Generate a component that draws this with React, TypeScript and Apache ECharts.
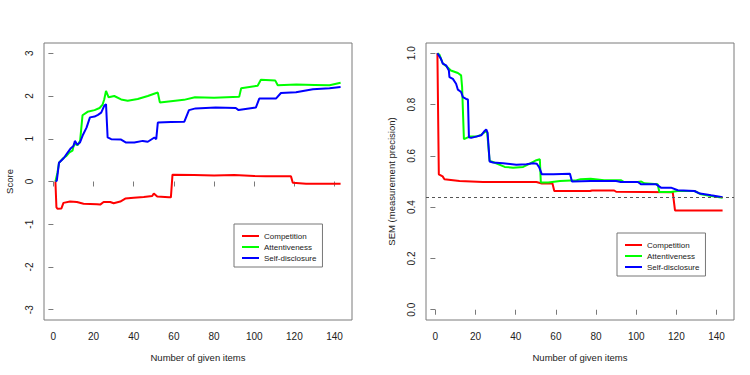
import React, { useEffect, useRef } from "react";
import * as echarts from "echarts";

// ---- data ----
const itemTicks = [0, 20, 40, 60, 80, 100, 120, 140];
const scoreTicks = [-3, -2, -1, 0, 1, 2, 3];
const semTicks = [0, 0.2, 0.4, 0.6, 0.8, 1.0];
const seriesNames = ["Competition", "Attentiveness", "Self-disclosure"];
const seriesColors = ["#ff0000", "#00ff00", "#0000ff"];
const semThreshold = 0.44;

const scoreCompetition: [number, number][] = [
  [1, 0], [1.5, -0.6], [2, -0.64], [4, -0.63], [5, -0.5], [8.3, -0.47], [11.7, -0.48],
  [15, -0.52], [21.7, -0.53], [23.3, -0.54], [25, -0.48], [28.3, -0.48], [30, -0.51],
  [33.3, -0.47], [35.8, -0.4], [40, -0.38], [45, -0.36], [49.2, -0.34], [50, -0.28],
  [51.7, -0.35], [57.5, -0.37], [58.5, -0.37], [59.3, 0.16], [70, 0.15], [80, 0.14],
  [90, 0.15], [100, 0.13], [105.8, 0.12], [112, 0.12], [118.3, 0.12], [119.2, -0.03],
  [125.8, -0.05], [135, -0.05], [143, -0.05],
];
const scoreAttentiveness: [number, number][] = [
  [1, 0], [2, 0.2], [2.8, 0.44], [5, 0.55], [6.3, 0.59], [8, 0.68], [9.5, 0.72],
  [10.3, 0.88], [12, 0.85], [13.3, 0.95], [14.5, 1.55], [17, 1.63], [20.5, 1.67],
  [23, 1.72], [24.5, 1.8], [25.3, 1.92], [26.2, 2.12], [27.5, 1.97], [30.3, 2.0],
  [33.7, 1.92], [37, 1.89], [42, 1.93], [47, 2.0], [50.5, 2.06], [52, 2.08], [53, 1.85],
  [58.5, 1.88], [65, 1.91], [70.5, 1.97], [80, 1.96], [92.5, 1.98], [93.5, 2.18],
  [101.7, 2.24], [103.3, 2.38], [110.5, 2.36], [111.7, 2.25], [121, 2.27], [130, 2.26],
  [137.5, 2.25], [143, 2.31],
];
const scoreSelfDisclosure: [number, number][] = [
  [1, 0], [1.7, 0.02], [2.8, 0.44], [5.2, 0.55], [7, 0.67], [8.7, 0.78], [10, 0.83],
  [10.7, 0.95], [11.9, 0.86], [13.2, 0.91], [14.8, 1.1], [16.5, 1.26], [18.2, 1.5],
  [20.5, 1.52], [22.2, 1.56], [23.8, 1.61], [25.3, 1.77], [26.2, 1.81], [27, 1.03],
  [28.8, 0.99], [33.7, 0.98], [36.2, 0.91], [40.3, 0.91], [44.5, 0.95], [47, 0.93],
  [50.3, 1.03], [51.2, 0.99], [52, 1.38], [58.5, 1.39], [65.2, 1.4], [67.5, 1.67],
  [70.8, 1.71], [80.8, 1.73], [90.8, 1.72], [92.2, 1.67], [100.8, 1.73], [102.5, 1.94],
  [110.8, 1.94], [113.3, 2.07], [120.8, 2.09], [129.2, 2.16], [137.5, 2.18], [143, 2.21],
];

const semCompetition: [number, number][] = [
  [1, 1.0], [1.7, 0.528], [3.6, 0.52], [4.5, 0.509], [12, 0.502], [23.7, 0.498],
  [50.3, 0.498], [53, 0.492], [58.3, 0.492], [59.2, 0.463], [77, 0.463], [78, 0.465],
  [89, 0.465], [90, 0.46], [118.2, 0.458], [119.3, 0.387], [143, 0.387],
];
const semAttentiveness: [number, number][] = [
  [1, 1.0], [2, 0.995], [3.7, 0.96], [6, 0.946], [7.7, 0.933], [11.2, 0.923],
  [12.8, 0.914], [13.3, 0.868], [14.2, 0.665], [17, 0.675], [20.3, 0.675], [22.8, 0.682],
  [24.5, 0.692], [25.3, 0.698], [25.8, 0.69], [27, 0.58], [28.7, 0.576], [34.5, 0.557],
  [38.7, 0.554], [43.7, 0.557], [47, 0.57], [50.3, 0.583], [52, 0.587], [52.5, 0.496],
  [56.2, 0.496], [62, 0.502], [70.3, 0.505], [72.3, 0.509], [77.3, 0.511], [84, 0.505],
  [92.3, 0.505], [94, 0.498], [100.8, 0.498], [102.5, 0.5], [104, 0.493], [110.7, 0.489],
  [111.5, 0.459], [117.3, 0.459], [120.7, 0.463], [129, 0.463], [132.3, 0.45],
  [137.3, 0.443], [143, 0.437],
];
const semSelfDisclosure: [number, number][] = [
  [1, 1.0], [2.7, 0.979], [3.7, 0.96], [5.3, 0.953], [6.7, 0.933], [7, 0.907],
  [8.7, 0.9], [10.3, 0.881], [11.2, 0.858], [12.8, 0.849], [13.7, 0.829], [15.3, 0.822],
  [16.2, 0.82], [16.7, 0.672], [17.8, 0.67], [20.3, 0.675], [22.8, 0.68], [24.5, 0.697],
  [25.3, 0.703], [26, 0.69], [27, 0.578], [28.7, 0.574], [33.7, 0.571], [40.3, 0.565],
  [45.3, 0.567], [48.7, 0.571], [50.5, 0.569], [51.7, 0.555], [53, 0.528], [58.8, 0.528],
  [67, 0.53], [68, 0.5], [77.3, 0.502], [90, 0.502], [92.3, 0.498], [100.8, 0.498],
  [102.5, 0.489], [110, 0.489], [112.3, 0.476], [117.3, 0.476], [120.7, 0.466],
  [129, 0.463], [131.7, 0.453], [137.3, 0.446], [143, 0.439],
];

const FONT = "'Liberation Sans', Arial, sans-serif";
const AXIS_GRAY = "#7a7a7a";
const TEXT = "#222";

function xAxisFor(gridIndex: number) {
  return {
    type: "value",
    gridIndex,
    min: -4.68,
    max: 148.68,
    name: "Number of given items",
    nameLocation: "middle",
    nameGap: 32,
    nameTextStyle: { fontFamily: FONT, fontSize: 9.5, color: TEXT },
    axisLine: { show: false },
    axisTick: { show: true, length: 5, lineStyle: { color: AXIS_GRAY }, customValues: itemTicks },
    axisLabel: { fontFamily: FONT, fontSize: 10, color: TEXT, margin: 11, customValues: itemTicks },
    splitLine: { show: false },
  };
}

function yAxisFor(gridIndex: number, name: string, min: number, max: number, ticks: number[], fmt: (v: number) => string) {
  return {
    type: "value",
    gridIndex,
    min,
    max,
    name,
    nameLocation: "middle",
    nameGap: 30,
    nameRotate: 90,
    nameTextStyle: { fontFamily: FONT, fontSize: 9.5, color: TEXT },
    axisLine: { show: false },
    axisTick: { show: true, length: 5, lineStyle: { color: AXIS_GRAY }, customValues: ticks },
    axisLabel: {
      fontFamily: FONT,
      fontSize: 10,
      color: TEXT,
      rotate: 90,
      margin: 10,
      customValues: ticks,
      formatter: (v: number) => fmt(v),
    },
    splitLine: { show: false },
  };
}

function lineSeries(name: string, idx: number, data: [number, number][], color: string, extra: any = {}) {
  return {
    type: "line",
    name,
    xAxisIndex: idx,
    yAxisIndex: idx,
    data,
    showSymbol: false,
    symbol: "none",
    silent: true,
    lineStyle: { width: 2, color },
    itemStyle: { color },
    ...extra,
  };
}

function legendAt(left: number, top: number) {
  return {
    left,
    top,
    orient: "vertical",
    data: seriesNames,
    icon: "rect",
    itemWidth: 17,
    itemHeight: 2,
    itemGap: 1,
    padding: [7, 6, 4, 8],
    borderColor: "#777",
    borderWidth: 1,
    backgroundColor: "#fff",
    selectedMode: false,
    textStyle: { fontFamily: FONT, fontSize: 8, color: TEXT, lineHeight: 10 },
  };
}

export default function App() {
  const ref = useRef<HTMLDivElement>(null);
  useEffect(() => {
    if (!ref.current) return;
    const chart = echarts.init(ref.current, undefined, { renderer: "svg" });
    const scoreSets = [scoreCompetition, scoreAttentiveness, scoreSelfDisclosure];
    const semSets = [semCompetition, semAttentiveness, semSelfDisclosure];
    const series: any[] = [];
    seriesNames.forEach((n, i) => series.push(lineSeries(n, 0, scoreSets[i], seriesColors[i])));
    seriesNames.forEach((n, i) =>
      series.push(
        lineSeries(
          n,
          1,
          semSets[i],
          seriesColors[i],
          i === 0
            ? {
                markLine: {
                  silent: true,
                  symbol: "none",
                  label: { show: false },
                  lineStyle: { type: [3, 3], color: "#555", width: 1 },
                  data: [{ yAxis: semThreshold }],
                },
              }
            : {}
        )
      )
    );
    chart.setOption({
      animation: false,
      backgroundColor: "#fff",
      textStyle: { fontFamily: FONT },
      grid: [
        { left: 44, right: 398, top: 43, bottom: 55, show: true, borderColor: AXIS_GRAY, borderWidth: 1, backgroundColor: "transparent" },
        { left: 426, right: 16, top: 43, bottom: 55, show: true, borderColor: AXIS_GRAY, borderWidth: 1, backgroundColor: "transparent" },
      ],
      xAxis: [xAxisFor(0), xAxisFor(1)],
      yAxis: [
        yAxisFor(0, "Score", -3.24, 3.24, scoreTicks, (v) => String(v)),
        yAxisFor(1, "SEM (measurement precision)", -0.04, 1.04, semTicks, (v) => v.toFixed(1)),
      ],
      legend: [legendAt(234, 224), legendAt(617, 233)],
      series,
    });
    return () => chart.dispose();
  }, []);
  return <div ref={ref} style={{ position: "absolute", left: 0, top: 0, width: 750, height: 375 }} />;
}
